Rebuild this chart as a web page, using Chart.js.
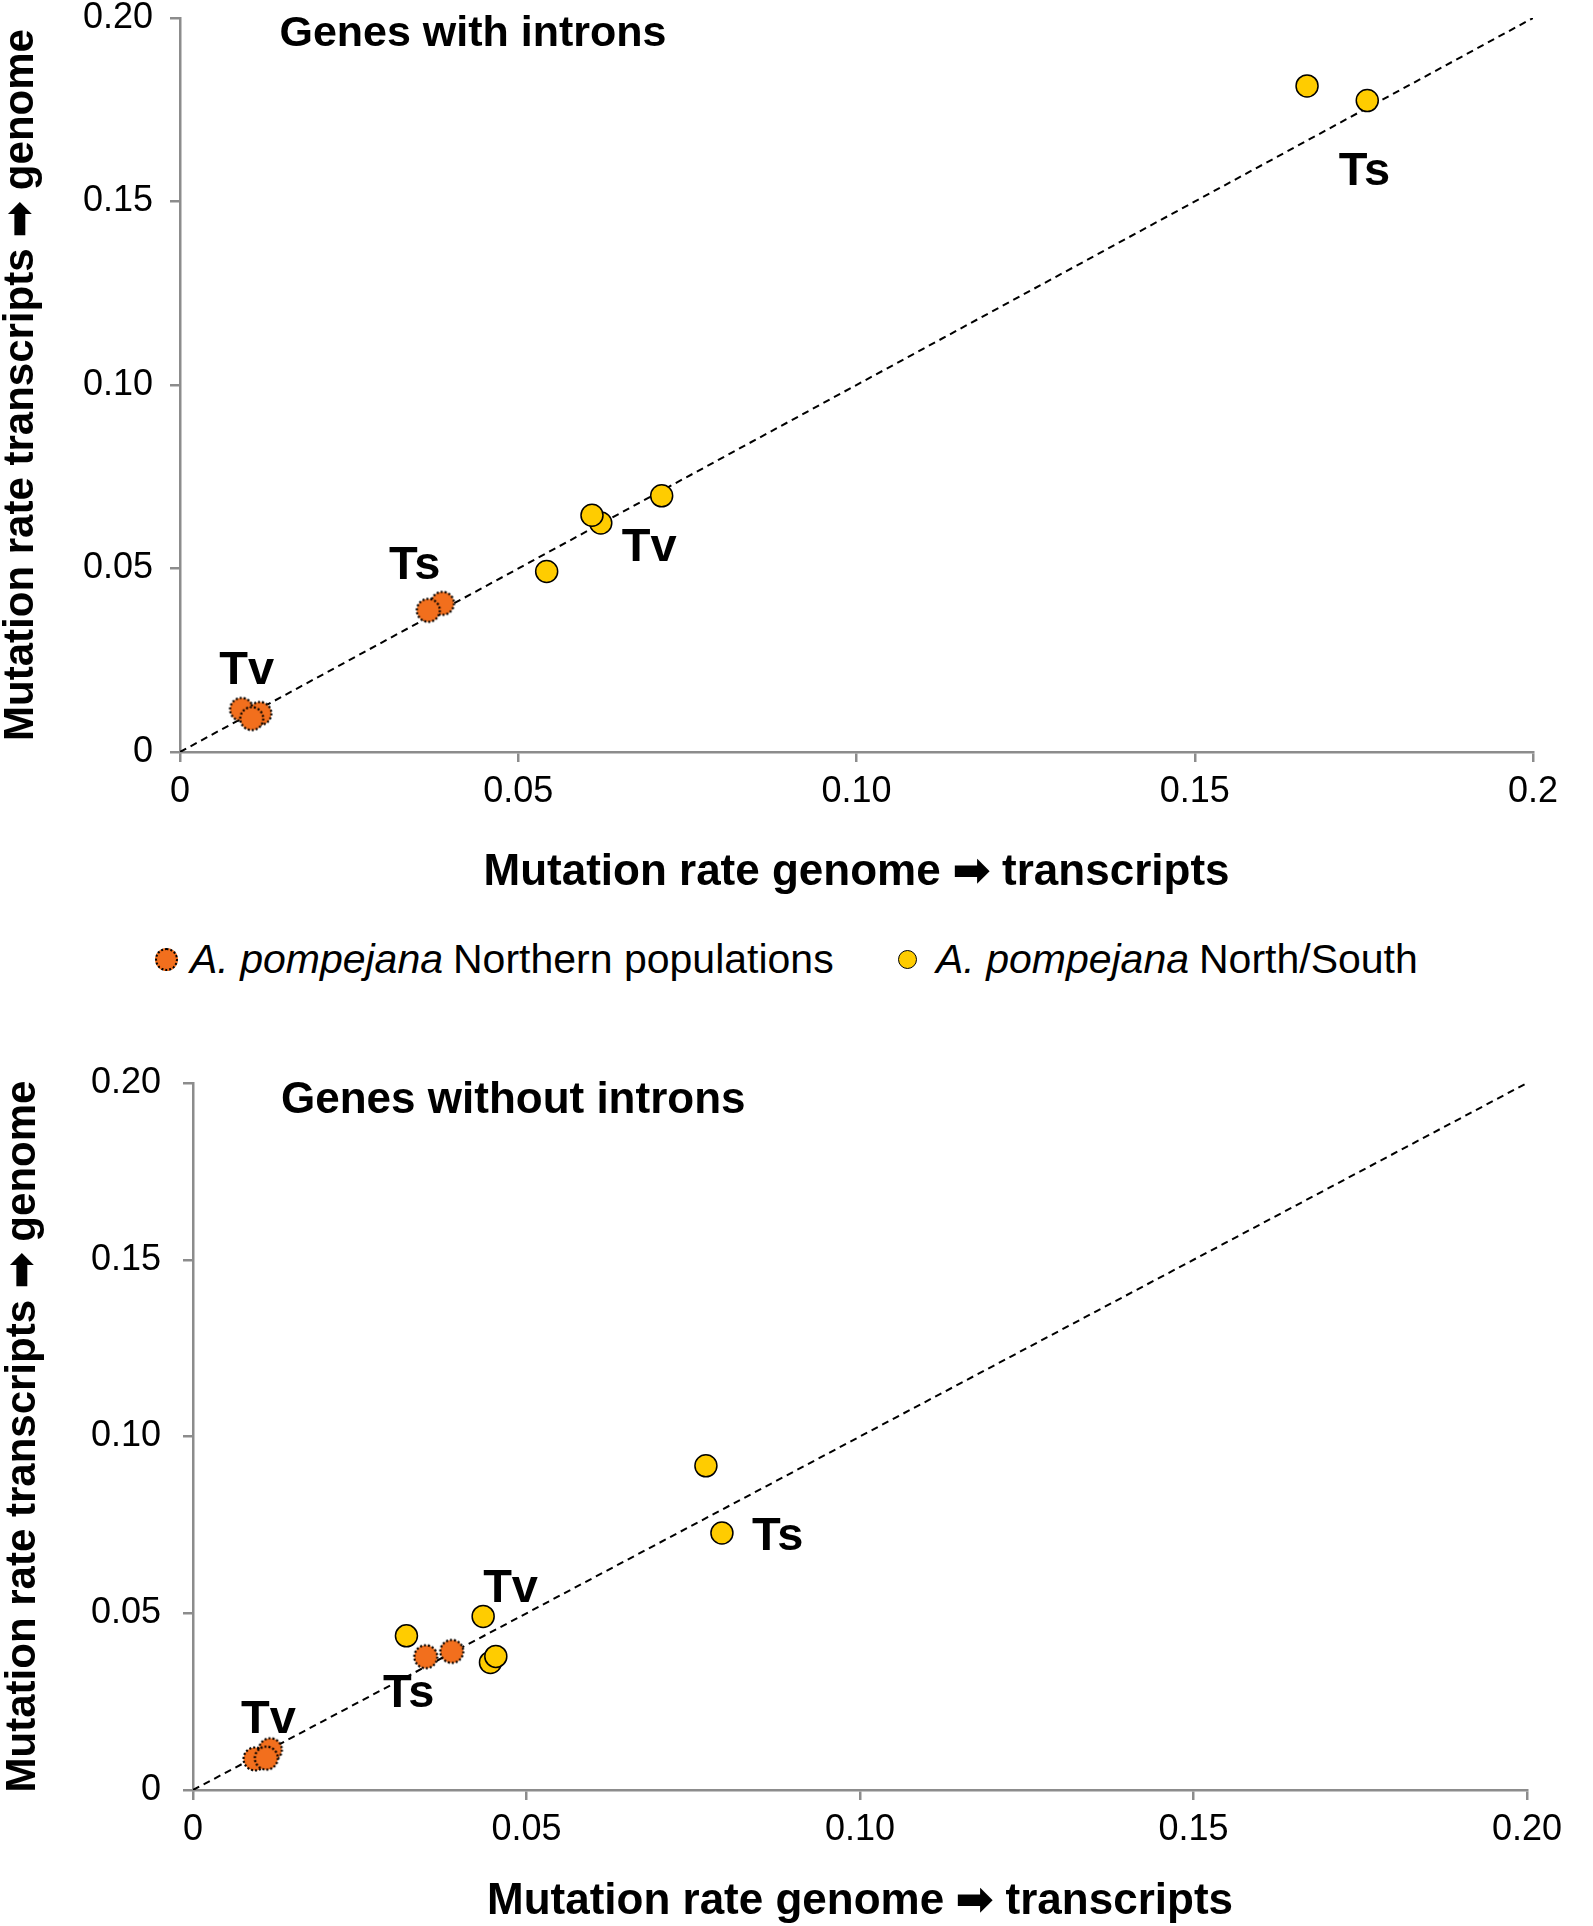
<!DOCTYPE html>
<html>
<head>
<meta charset="utf-8">
<script src="https://cdn.jsdelivr.net/npm/chart.js@4.4.1/dist/chart.umd.min.js"></script>
<style>
    body {
        margin: 0;
        background: #fff;
        width: 1593px;
        height: 1926px;
        position: relative;
        overflow: hidden;
        font-family: "Liberation Sans", Arial, sans-serif;
    }
    canvas { position: absolute; left: 0; }
    #topChart { top: -17px; }
    #bottomChart { top: 1000px; }
    .legend {
        position: absolute;
        top: 938px;
        height: 42px;
        display: flex;
        align-items: center;
        font-size: 41px;
        color: #000;
        white-space: nowrap;
    }
    .legend i { margin-right: 10px; }
    .dot {
        display: inline-block;
        box-sizing: border-box;
        border-radius: 50%;
        margin-right: 12px;
    }
    .dot.north { width: 23px; height: 23px; background: #f26f1d; border: 2px dotted #000; }
    .dot.ns { width: 19px; height: 19px; background: #ffcc00; border: 1.5px solid #000; margin-right: 19px; }
</style>
</head>
<body>
<canvas id="topChart" width="1593" height="917"></canvas>
<div class="legend" style="left:155px"><span class="dot north"></span><i>A. pompejana</i>Northern populations</div>
<div class="legend" style="left:898px"><span class="dot ns"></span><i>A. pompejana</i>North/South</div>
<canvas id="bottomChart" width="1593" height="926"></canvas>
<script>
// axis ticks
const tickValues = [0, 0.05, 0.10, 0.15, 0.20];
const topXTickLabels = ['0', '0.05', '0.10', '0.15', '0.2'];
const topYTickLabels = ['0', '0.05', '0.10', '0.15', '0.20'];
const bottomXTickLabels = ['0', '0.05', '0.10', '0.15', '0.20'];
const bottomYTickLabels = ['0', '0.05', '0.10', '0.15', '0.20'];
const diagonalX = [0, 0.2];
const diagonalY = [0, 0.2];

// genes with introns
const intronNorthX = [0.0091, 0.0118, 0.0106, 0.0388, 0.0367];
const intronNorthY = [0.0116, 0.0105, 0.0091, 0.0405, 0.0386];
const intronNorthSouthX = [0.0542, 0.0622, 0.0609, 0.0712, 0.1666, 0.1755];
const intronNorthSouthY = [0.0492, 0.0624, 0.0645, 0.0698, 0.1815, 0.1775];

// genes without introns
const noIntronNorthX = [0.0093, 0.0116, 0.0110, 0.0349, 0.0388];
const noIntronNorthY = [0.0088, 0.0114, 0.0090, 0.0377, 0.0392];
const noIntronNorthSouthX = [0.0320, 0.0435, 0.0446, 0.0454, 0.0769, 0.0793];
const noIntronNorthSouthY = [0.0436, 0.0491, 0.0361, 0.0378, 0.0917, 0.0727];

const xTitle = 'Mutation rate genome \u27A1 transcripts';
const yTitle = 'Mutation rate transcripts \u27A1 genome';

const ORANGE = '#f26f1d';
const YELLOW = '#ffcc00';
const AXIS = '#8c8c8c';
const FONT = '"Liberation Sans", Arial, sans-serif';

// labels anchored in data units (left edge, baseline)
const topNotes = [
    { text: 'Genes with introns', x: 0.0147, y: 0.1924, size: 43 },
    { text: 'Ts', x: 0.1713, y: 0.1546, size: 47 },
    { text: 'Tv', x: 0.0653, y: 0.0520, size: 47 },
    { text: 'Ts', x: 0.0309, y: 0.0471, size: 47 },
    { text: 'Tv', x: 0.0058, y: 0.0186, size: 47 },
];
const bottomNotes = [
    { text: 'Genes without introns', x: 0.0132, y: 0.1915, size: 44 },
    { text: 'Ts', x: 0.0838, y: 0.0679, size: 47 },
    { text: 'Tv', x: 0.0435, y: 0.0533, size: 47 },
    { text: 'Ts', x: 0.0285, y: 0.0235, size: 47 },
    { text: 'Tv', x: 0.0072, y: 0.0161, size: 47 },
];

function toPoints(xs, ys) {
    return xs.map((x, i) => ({ x: x, y: ys[i] }));
}

// orange markers have a dotted outline, so draw them as a small canvas
function dottedDot(color) {
    const c = document.createElement('canvas');
    c.width = 28;
    c.height = 28;
    const g = c.getContext('2d');
    g.beginPath();
    g.arc(14, 14, 11.5, 0, Math.PI * 2);
    g.fillStyle = color;
    g.fill();
    g.setLineDash([2, 2]);
    g.lineWidth = 2.2;
    g.strokeStyle = '#000';
    g.stroke();
    return c;
}
const orangeDot = dottedDot(ORANGE);

function notesPlugin(notes) {
    return {
        id: 'notes',
        afterDatasetsDraw(chart) {
            const ctx = chart.ctx;
            const xs = chart.scales.x;
            const ys = chart.scales.y;
            ctx.save();
            ctx.fillStyle = '#000';
            ctx.textAlign = 'left';
            ctx.textBaseline = 'alphabetic';
            notes.forEach(n => {
                ctx.font = 'bold ' + n.size + 'px ' + FONT;
                ctx.fillText(n.text, xs.getPixelForValue(n.x), ys.getPixelForValue(n.y));
            });
            ctx.restore();
        }
    };
}

function makeChart(id, cfg) {
    const datasets = [
        {
            label: 'North/South',
            data: toPoints(cfg.nsX, cfg.nsY),
            backgroundColor: YELLOW,
            borderColor: '#000',
            borderWidth: 1.5,
            pointRadius: 11,
            order: 2,
        },
        {
            label: 'Northern populations',
            data: toPoints(cfg.northX, cfg.northY),
            pointStyle: orangeDot,
            backgroundColor: ORANGE,
            order: 1,
        },
        {
            label: 'y = x',
            type: 'line',
            data: toPoints(diagonalX, diagonalY),
            borderColor: '#000',
            borderWidth: 2,
            borderDash: [7, 5],
            pointRadius: 0,
            fill: false,
            order: 3,
        },
    ];

    return new Chart(document.getElementById(id).getContext('2d'), {
        type: 'scatter',
        data: { datasets: datasets },
        plugins: [notesPlugin(cfg.notes)],
        options: {
            responsive: false,
            animation: false,
            layout: { padding: { top: cfg.padTop, right: cfg.padRight, left: 0, bottom: 0 } },
            plugins: {
                legend: { display: false },
                tooltip: { enabled: false },
            },
            scales: {
                x: {
                    type: 'linear',
                    min: 0,
                    max: 0.2,
                    afterBuildTicks: s => { s.ticks = tickValues.map(v => ({ value: v })); },
                    afterFit: s => { s.height = cfg.xAxisHeight; },
                    ticks: {
                        callback: (v, i) => cfg.xLabels[i],
                        autoSkip: false,
                        maxRotation: 0,
                        padding: 12,
                        color: '#000',
                        font: { family: FONT, size: 36, lineHeight: 1 },
                    },
                    grid: { drawOnChartArea: false, tickLength: 10, color: AXIS, lineWidth: 2.5 },
                    border: { color: AXIS, width: 2.5 },
                    title: {
                        display: true,
                        text: xTitle,
                        color: '#000',
                        font: { family: FONT, size: 44, weight: 'bold', lineHeight: 1 },
                        padding: { top: 0, bottom: cfg.xTitlePad },
                    },
                },
                y: {
                    type: 'linear',
                    min: 0,
                    max: 0.2,
                    afterBuildTicks: s => { s.ticks = tickValues.map(v => ({ value: v })); },
                    afterFit: s => { s.width = cfg.yAxisWidth; },
                    ticks: {
                        callback: (v, i) => cfg.yLabels[i],
                        autoSkip: false,
                        padding: cfg.yTickPad,
                        color: '#000',
                        font: { family: FONT, size: 36, lineHeight: 1 },
                    },
                    grid: { drawOnChartArea: false, tickLength: 10, color: AXIS, lineWidth: 2.5 },
                    border: { color: AXIS, width: 2.5 },
                    title: {
                        display: true,
                        text: yTitle,
                        color: '#000',
                        font: { family: FONT, size: 42, weight: 'bold', lineHeight: 1 },
                        padding: { top: cfg.yTitlePad, bottom: 0 },
                    },
                },
            },
        },
    });
}

// top canvas starts 17px above the page so the plot top lands at 18px
const topChart = makeChart('topChart', {
    northX: intronNorthX, northY: intronNorthY,
    nsX: intronNorthSouthX, nsY: intronNorthSouthY,
    xLabels: topXTickLabels, yLabels: topYTickLabels,
    notes: topNotes,
    padTop: 35, padRight: 60,
    xAxisHeight: 148, yAxisWidth: 180,
    xTitlePad: 5, yTitlePad: 0, yTickPad: 17,
});

const bottomChart = makeChart('bottomChart', {
    northX: noIntronNorthX, northY: noIntronNorthY,
    nsX: noIntronNorthSouthX, nsY: noIntronNorthSouthY,
    xLabels: bottomXTickLabels, yLabels: bottomYTickLabels,
    notes: bottomNotes,
    padTop: 83, padRight: 66,
    xAxisHeight: 136, yAxisWidth: 193,
    xTitlePad: 2, yTitlePad: 2, yTickPad: 22,
});
</script>
</body>
</html>
